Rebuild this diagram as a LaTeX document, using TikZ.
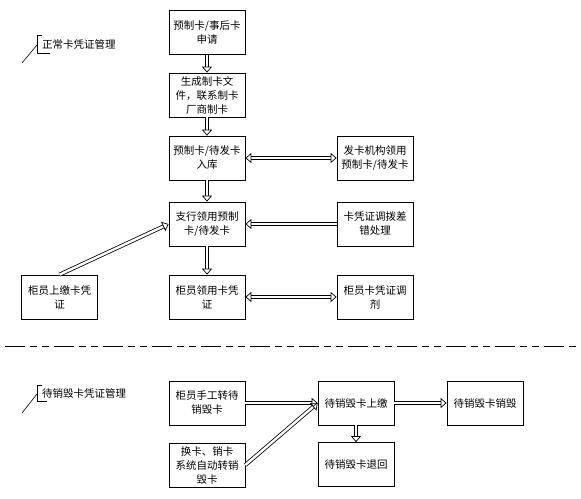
\documentclass[tikz,border=0pt]{standalone}
\usepackage{fontspec}
\setmainfont{Noto Sans CJK SC}
\usetikzlibrary{arrows.meta}
\begin{document}
\begin{tikzpicture}[x=1pt,y=-1pt,
  box/.style={draw, line width=0.7pt, minimum width=76pt, minimum height=44pt,
    align=center, inner sep=1pt, font=\fontsize{10.5}{14}\selectfont},
  flow/.style={draw, double, double distance=2.4pt, line width=0.8pt,
    -{Triangle[open,length=6pt,width=10pt,line width=0.7pt]}},
  bothflow/.style={draw, double, double distance=2.4pt, line width=0.8pt,
    {Triangle[open,length=6pt,width=10pt,line width=0.7pt]}-{Triangle[open,length=6pt,width=10pt,line width=0.7pt]}},
  tag/.style={anchor=west, inner sep=0pt, font=\fontsize{10.5}{12}\selectfont},
  callout/.style={line width=0.6pt},
  sep/.style={line width=1pt, dash pattern=on 20pt off 5pt on 7pt off 5pt on 7pt off 5pt}]
\useasboundingbox (0,0) rectangle (581,498);

% upper part
\node[box] (b1) at (207,32.5) {预制卡/事后卡\\申请};
\node[box] (b2) at (207,95) {生成制卡文\\件，联系制卡\\厂商制卡};
\node[box] (b3) at (207,158) {预制卡/待发卡\\入库};
\node[box] (b4) at (207,224) {支行领用预制\\卡/待发卡};
\node[box] (b5) at (207,297) {柜员领用卡凭\\证};
\node[box] (r1) at (375,158) {发卡机构领用\\预制卡/待发卡};
\node[box] (r2) at (375,224) {卡凭证调拨差\\错处理};
\node[box] (r3) at (375,297) {柜员卡凭证调\\剂};
\node[box] (l1) at (59.5,297) {柜员上缴卡凭\\证};

\draw[flow] (b1) -- (b2);
\draw[flow] (b2) -- (b3);
\draw[flow] (b3) -- (b4);
\draw[flow] (b4) -- (b5);
\draw[bothflow] (b3) -- (r1);
\draw[flow] (r2) -- (b4);
\draw[bothflow] (b5) -- (r3);
\draw[flow] (l1.north) -- (b4.west);

% label 1
\node[tag] (t1) at (42,44) {正常卡凭证管理};
\coordinate (t1a) at (37,35);
\coordinate (t1b) at (37,53);
\coordinate (t1c) at (22,63);
\draw[callout] (t1.north west |- t1a) -- (t1a) -- (t1b) -- ++(13,0);
\draw[callout] (t1c) -- (37,45);

% separator
\coordinate (s1) at (5,346);
\coordinate (s2) at (578,346);
\draw[sep] (s1) -- (s2);

% lower part
\node[box] (c1) at (207,403) {柜员手工转待\\销毁卡};
\node[box] (c2) at (207,465) {换卡、销卡\\系统自动转销\\毁卡};
\node[box] (d1) at (356,403) {待销毁卡上缴};
\node[box] (d2) at (356,464.5) {待销毁卡退回};
\node[box] (e1) at (485,403) {待销毁卡销毁};

\draw[flow] (c1) -- (d1);
\draw[flow] (c2.east) -- (d1.west);
\draw[flow] (d1) -- (d2);
\draw[flow] (d1) -- (e1);

% label 2
\node[tag] (t2) at (42,393) {待销毁卡凭证管理};
\coordinate (t2a) at (37,385);
\coordinate (t2b) at (37,401);
\coordinate (t2c) at (22,413);
\draw[callout] (t2.north west |- t2a) -- (t2a) -- (t2b) -- ++(10,0);
\draw[callout] (t2c) -- (37,394);
\end{tikzpicture}
\end{document}
